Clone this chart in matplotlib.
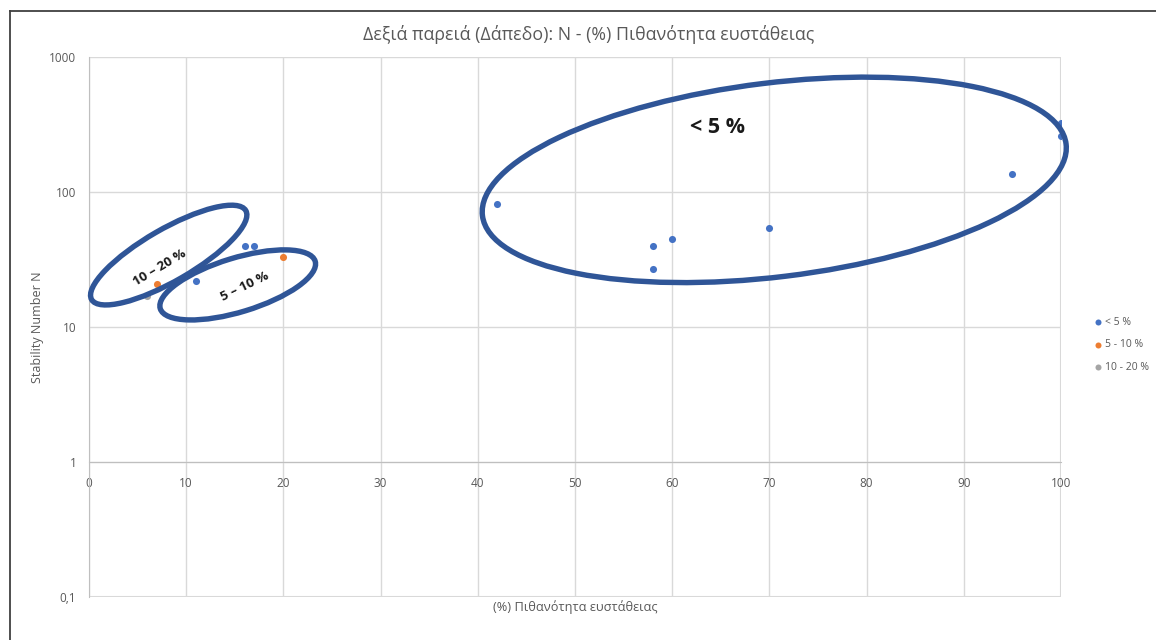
import matplotlib
matplotlib.use("Agg")
import matplotlib.pyplot as plt
from matplotlib.patches import Ellipse
from matplotlib.transforms import ScaledTranslation
from matplotlib.lines import Line2D

plt.rcParams['font.family'] = ['Open Sans', 'DejaVu Sans']

# ---- data -------------------------------------------------------------
series_labels = ['< 5 %', '5 - 10 %', '10 - 20 %']
series_colors = ['#4472C4', '#ED7D31', '#A5A5A5']

lt5_x = [11, 16, 17, 42, 58, 58, 60, 70, 95, 100, 100]
lt5_n = [22, 40, 40, 81, 40, 27, 45, 54, 136, 325, 260]

b5_10_x = [7, 20]
b5_10_n = [21, 33]

b10_20_x = [6]
b10_20_n = [17]

x_ticks = [0, 10, 20, 30, 40, 50, 60, 70, 80, 90, 100]
y_ticks = [0.1, 1, 10, 100, 1000]
y_tick_labels = ['0,1', '1', '10', '100', '1000']

title = 'Δεξιά παρειά (Δάπεδο): N - (%) Πιθανότητα ευστάθειας'
x_label = '(%) Πιθανότητα ευστάθειας'
y_label = 'Stability Number N'

# grouping outlines: (centre x, centre N, width in, height in, angle, label,
# label x, label N, label rotation, label size)
groups = [
    (70.5, 123, 5.88, 1.94, 7, '< 5 %', 64.7, 298, 0, 15.5),
    (8.2, 34.1, 1.78, 0.52, 30, '10 – 20 %', 7.3, 27.5, 31, 9.5),
    (15.3, 20.5, 1.62, 0.54, 17, '5 – 10 %', 16.0, 19.8, 26, 9.5),
]

# ---- figure -----------------------------------------------------------
W, H = 1156, 640
fig = plt.figure(figsize=(W / 100, H / 100), dpi=100)
ax = fig.add_axes([89 / W, (H - 597) / H, (1061 - 89) / W, (597 - 57) / H])

ax.set_yscale('log')
ax.set_xlim(0, 100)
ax.set_ylim(0.1, 1000)

grid_c = '#D9D9D9'
axis_c = '#BFBFBF'
text_c = '#595959'

ax.set_xticks(x_ticks)
ax.set_xticklabels([str(v) for v in x_ticks])
ax.set_yticks(y_ticks)
ax.set_yticklabels(y_tick_labels)
ax.minorticks_off()
ax.tick_params(axis='both', length=0, labelsize=8.5, colors=text_c)
ax.tick_params(axis='x', pad=10.5)
ax.tick_params(axis='y', pad=9)

ax.grid(True, color=grid_c, linewidth=1.0)
ax.set_axisbelow(True)

for side in ('top', 'right'):
    ax.spines[side].set_visible(False)
ax.spines['bottom'].set_position(('data', 1))
ax.spines['bottom'].set_color(axis_c)
ax.spines['left'].set_color(axis_c)

# frame lines along the bottom and right of the plot area
ax.axhline(0.1, color=grid_c, linewidth=1.5, zorder=0.5)
ax.axvline(100, color=grid_c, linewidth=1.5, zorder=0.5)

# ---- series -----------------------------------------------------------
for xs, ns, lab, col in zip([lt5_x, b5_10_x, b10_20_x],
                            [lt5_n, b5_10_n, b10_20_n],
                            series_labels, series_colors):
    ax.scatter(xs, ns, s=26, color=col, label=lab, zorder=3, linewidths=0)

# ---- grouping outlines ------------------------------------------------
outline_c = '#2F5597'
for cx, cy, w, h, ang, lab, tx, ty, rot, fs in groups:
    tr = fig.dpi_scale_trans + ScaledTranslation(cx, cy, ax.transData)
    ax.add_patch(Ellipse((0, 0), w, h, angle=ang, transform=tr,
                         fill=False, edgecolor=outline_c, linewidth=3.9,
                         zorder=4, clip_on=False))
    ax.text(tx, ty, lab, rotation=rot, rotation_mode='anchor',
            ha='center', va='center', fontsize=fs, fontweight='bold',
            color='#1a1a1a', zorder=5)

# ---- labels -----------------------------------------------------------
fig.text(589 / W, 1 - 35 / H, title, ha='center', va='center',
         fontsize=12.8, color=text_c)
fig.text(575 / W, 1 - 607 / H, x_label, ha='center', va='center',
         fontsize=9.2, color=text_c)
fig.text(38 / W, 1 - 327 / H, y_label, ha='center', va='center',
         rotation=90, fontsize=9, color=text_c)

leg = fig.legend(loc='center left', bbox_to_anchor=(1088 / W, 1 - 345 / H),
                 frameon=False, fontsize=7.5, handletextpad=0.1,
                 handlelength=1.0, labelspacing=1.1, borderpad=0,
                 scatterpoints=1, markerscale=0.85)
for t in leg.get_texts():
    t.set_color(text_c)

# outer frame
frame_c = '#404040'
fig.add_artist(Line2D([10 / W, 10 / W], [0, 1 - 11 / H], transform=fig.transFigure,
                      color=frame_c, linewidth=1.3))
fig.add_artist(Line2D([10 / W, 1], [1 - 11 / H, 1 - 11 / H], transform=fig.transFigure,
                      color=frame_c, linewidth=1.3))

fig.savefig('out.png', dpi=100, facecolor='white')
